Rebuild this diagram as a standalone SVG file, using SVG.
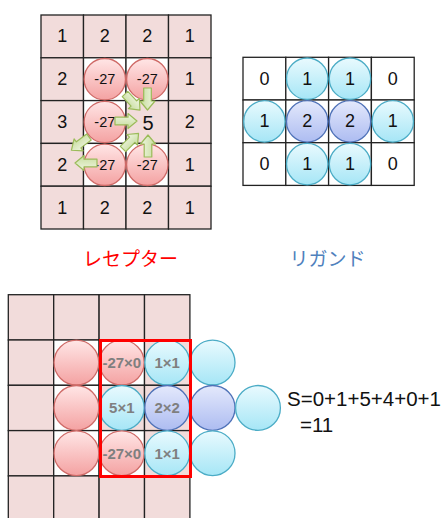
<svg xmlns="http://www.w3.org/2000/svg" xmlns:xlink="http://www.w3.org/1999/xlink" width="445" height="518" viewBox="0 0 445 518">
<style>
.cp{fill:#f2dcdb;stroke:#222;stroke-width:1.3}
.cw{fill:#fff;stroke:#222;stroke-width:1.3}
.num{font-family:"Liberation Sans",Arial,sans-serif;font-size:18px;fill:#111;text-anchor:middle;dominant-baseline:central}
.sm{font-family:"Liberation Sans",Arial,sans-serif;font-size:14.5px;fill:#111;text-anchor:middle;dominant-baseline:central}
.bd{font-family:"Liberation Sans",Arial,sans-serif;font-size:15px;font-weight:bold;fill:#7f7f7f;text-anchor:middle;dominant-baseline:central}
.red{fill:url(#gr);stroke:#cf6a67;stroke-width:1.3}
.cy{fill:url(#gc);stroke:#4bacc6;stroke-width:1.3}
.bl{fill:url(#gb);stroke:#4f72b8;stroke-width:1.3}
.arr{fill:url(#gg);stroke:#9bbb59;stroke-width:1.2;stroke-linejoin:round}
.jp{font-family:"Noto Sans CJK JP",sans-serif;font-size:19px}
.eq{font-family:"Liberation Sans",Arial,sans-serif;font-size:20.5px;fill:#111}
</style>
<defs>
<linearGradient id="gr" x1="0" y1="0" x2="0" y2="1"><stop offset="0" stop-color="#ffe6e6"/><stop offset="1" stop-color="#f4a2a2"/></linearGradient>
<linearGradient id="gc" x1="0" y1="0" x2="0" y2="1"><stop offset="0" stop-color="#e9fafe"/><stop offset="1" stop-color="#a6e6f6"/></linearGradient>
<linearGradient id="gb" x1="0" y1="0" x2="0" y2="1"><stop offset="0" stop-color="#e4e9fc"/><stop offset="1" stop-color="#adbcf1"/></linearGradient>
<linearGradient id="gg" x1="0" y1="0" x2="0" y2="1"><stop offset="0" stop-color="#f0f6e2"/><stop offset="1" stop-color="#c6dc9c"/></linearGradient>
<path id="arrow" class="arr" d="M0,-3.8 H13 V-7.5 L22,0 L13,7.5 V3.8 H0 Z"/>
</defs>

<!-- Top-left receptor grid -->
<g id="receptor-grid">
<rect class="cp" x="41" y="15" width="42.5" height="42.8"/><rect class="cp" x="83.5" y="15" width="42.5" height="42.8"/><rect class="cp" x="126" y="15" width="42.5" height="42.8"/><rect class="cp" x="168.5" y="15" width="42.5" height="42.8"/>
<rect class="cp" x="41" y="57.8" width="42.5" height="42.8"/><rect class="cw" x="83.5" y="57.8" width="42.5" height="42.8"/><rect class="cw" x="126" y="57.8" width="42.5" height="42.8"/><rect class="cp" x="168.5" y="57.8" width="42.5" height="42.8"/>
<rect class="cp" x="41" y="100.6" width="42.5" height="42.8"/><rect class="cw" x="83.5" y="100.6" width="42.5" height="42.8"/><rect class="cp" x="126" y="100.6" width="42.5" height="42.8"/><rect class="cp" x="168.5" y="100.6" width="42.5" height="42.8"/>
<rect class="cp" x="41" y="143.4" width="42.5" height="42.8"/><rect class="cw" x="83.5" y="143.4" width="42.5" height="42.8"/><rect class="cw" x="126" y="143.4" width="42.5" height="42.8"/><rect class="cp" x="168.5" y="143.4" width="42.5" height="42.8"/>
<rect class="cp" x="41" y="186.2" width="42.5" height="42.8"/><rect class="cp" x="83.5" y="186.2" width="42.5" height="42.8"/><rect class="cp" x="126" y="186.2" width="42.5" height="42.8"/><rect class="cp" x="168.5" y="186.2" width="42.5" height="42.8"/>
<text class="num" x="62.3" y="36.4">1</text><text class="num" x="104.8" y="36.4">2</text><text class="num" x="147.3" y="36.4">2</text><text class="num" x="189.8" y="36.4">1</text>
<text class="num" x="62.3" y="79.2">2</text><text class="num" x="189.8" y="79.2">1</text>
<text class="num" x="62.3" y="122">3</text><text class="num" x="189.8" y="122">2</text>
<text class="num" x="62.3" y="164.8">2</text><text class="num" x="189.8" y="164.8">1</text>
<text class="num" x="62.3" y="207.6">1</text><text class="num" x="104.8" y="207.6">2</text><text class="num" x="147.3" y="207.6">2</text><text class="num" x="189.8" y="207.6">1</text>
<text class="num" x="148" y="123" style="font-size:20px">5</text>
</g>
<g id="receptor-atoms">
<circle class="red" cx="104.8" cy="79.2" r="20.7"/><text class="sm" x="104.8" y="79.2">-27</text>
<circle class="red" cx="147.3" cy="79.2" r="20.7"/><text class="sm" x="147.3" y="79.2">-27</text>
<circle class="red" cx="104.8" cy="122" r="20.7"/><text class="sm" x="104.8" y="122">-27</text>
<circle class="red" cx="104.8" cy="164.8" r="20.7"/><text class="sm" x="104.8" y="164.8">-27</text>
<circle class="red" cx="147.3" cy="164.8" r="20.7"/><text class="sm" x="147.3" y="164.8">-27</text>
</g>
<g id="connectors">
<use xlink:href="#arrow" href="#arrow" transform="translate(125,94) rotate(47)"/>
<use xlink:href="#arrow" href="#arrow" transform="translate(147.5,88) rotate(90)"/>
<use xlink:href="#arrow" href="#arrow" transform="translate(115,121) rotate(0)"/>
<use xlink:href="#arrow" href="#arrow" transform="translate(123,149) rotate(-45)"/>
<use xlink:href="#arrow" href="#arrow" transform="translate(148,157) rotate(-90)"/>
<use xlink:href="#arrow" href="#arrow" transform="translate(89,137) rotate(143)"/>
<use xlink:href="#arrow" href="#arrow" transform="translate(97,163) rotate(180)"/>
</g>

<!-- Top-right ligand grid -->
<g id="ligand-grid">
<rect class="cw" x="243" y="57.3" width="42.8" height="42.7"/><rect class="cw" x="285.8" y="57.3" width="42.8" height="42.7"/><rect class="cw" x="328.6" y="57.3" width="42.8" height="42.7"/><rect class="cw" x="371.4" y="57.3" width="42.8" height="42.7"/>
<rect class="cw" x="243" y="100" width="42.8" height="42.7"/><rect class="cw" x="285.8" y="100" width="42.8" height="42.7"/><rect class="cw" x="328.6" y="100" width="42.8" height="42.7"/><rect class="cw" x="371.4" y="100" width="42.8" height="42.7"/>
<rect class="cw" x="243" y="142.7" width="42.8" height="42.7"/><rect class="cw" x="285.8" y="142.7" width="42.8" height="42.7"/><rect class="cw" x="328.6" y="142.7" width="42.8" height="42.7"/><rect class="cw" x="371.4" y="142.7" width="42.8" height="42.7"/>
<text class="num" x="264.4" y="78.7">0</text><text class="num" x="392.8" y="78.7">0</text>
<text class="num" x="264.4" y="164.1">0</text><text class="num" x="392.8" y="164.1">0</text>
</g>
<g id="ligand-atoms">
<circle class="cy" cx="307.2" cy="78.7" r="20.7"/><text class="num" x="307.2" y="78.7">1</text>
<circle class="cy" cx="350" cy="78.7" r="20.7"/><text class="num" x="350" y="78.7">1</text>
<circle class="cy" cx="264.4" cy="121.4" r="20.7"/><text class="num" x="264.4" y="121.4">1</text>
<circle class="bl" cx="307.2" cy="121.4" r="20.7"/><text class="num" x="307.2" y="121.4">2</text>
<circle class="bl" cx="350" cy="121.4" r="20.7"/><text class="num" x="350" y="121.4">2</text>
<circle class="cy" cx="392.8" cy="121.4" r="20.7"/><text class="num" x="392.8" y="121.4">1</text>
<circle class="cy" cx="307.2" cy="164.1" r="20.7"/><text class="num" x="307.2" y="164.1">1</text>
<circle class="cy" cx="350" cy="164.1" r="20.7"/><text class="num" x="350" y="164.1">1</text>
</g>

<g id="label-receptor"><text class="jp" x="130.5" y="266" fill="#ff0000" text-anchor="middle">レセプター</text></g>
<g id="label-ligand"><text class="jp" x="327.5" y="266" fill="#4f81bd" text-anchor="middle">リガンド</text></g>

<!-- Bottom overlay -->
<g id="overlay-grid">
<rect class="cp" x="8.3" y="294.7" width="45.4" height="45.3"/><rect class="cp" x="53.7" y="294.7" width="45.4" height="45.3"/><rect class="cp" x="99.1" y="294.7" width="45.4" height="45.3"/><rect class="cp" x="144.5" y="294.7" width="45.4" height="45.3"/>
<rect class="cp" x="8.3" y="340" width="45.4" height="45.3"/><rect class="cw" x="53.7" y="340" width="45.4" height="45.3"/><rect class="cw" x="99.1" y="340" width="45.4" height="45.3"/><rect class="cp" x="144.5" y="340" width="45.4" height="45.3"/>
<rect class="cp" x="8.3" y="385.3" width="45.4" height="45.3"/><rect class="cw" x="53.7" y="385.3" width="45.4" height="45.3"/><rect class="cp" x="99.1" y="385.3" width="45.4" height="45.3"/><rect class="cp" x="144.5" y="385.3" width="45.4" height="45.3"/>
<rect class="cp" x="8.3" y="430.6" width="45.4" height="45.3"/><rect class="cw" x="53.7" y="430.6" width="45.4" height="45.3"/><rect class="cw" x="99.1" y="430.6" width="45.4" height="45.3"/><rect class="cp" x="144.5" y="430.6" width="45.4" height="45.3"/>
<rect class="cp" x="8.3" y="475.9" width="45.4" height="45.3"/><rect class="cp" x="53.7" y="475.9" width="45.4" height="45.3"/><rect class="cp" x="99.1" y="475.9" width="45.4" height="45.3"/><rect class="cp" x="144.5" y="475.9" width="45.4" height="45.3"/>
</g>
<g id="overlay-atoms">
<circle class="red" cx="76.4" cy="362.6" r="22.4"/>
<circle class="red" cx="76.4" cy="407.9" r="22.4"/>
<circle class="red" cx="76.4" cy="453.2" r="22.4"/>
<circle class="red" cx="121.8" cy="362.6" r="22.4"/><text class="bd" x="121.8" y="362.6">-27×0</text>
<circle class="cy" cx="121.8" cy="407.9" r="22.4"/><text class="bd" x="121.8" y="407.9">5×1</text>
<circle class="red" cx="121.8" cy="453.2" r="22.4"/><text class="bd" x="121.8" y="453.2">-27×0</text>
<circle class="cy" cx="167.2" cy="362.6" r="22.4"/><text class="bd" x="167.2" y="362.6">1×1</text>
<circle class="bl" cx="167.2" cy="407.9" r="22.4"/><text class="bd" x="167.2" y="407.9">2×2</text>
<circle class="cy" cx="167.2" cy="453.2" r="22.4"/><text class="bd" x="167.2" y="453.2">1×1</text>
<circle class="cy" cx="212.6" cy="362.6" r="22.4"/>
<circle class="bl" cx="212.6" cy="407.9" r="22.4"/>
<circle class="cy" cx="212.6" cy="453.2" r="22.4"/>
<circle class="cy" cx="258" cy="407.9" r="22.4"/>
</g>
<g id="window"><rect x="100.5" y="340.5" width="90" height="136" fill="none" stroke="#ff0000" stroke-width="3"/></g>
<g id="score">
<text class="eq" x="287" y="406">S=0+1+5+4+0+1</text>
<text class="eq" x="300" y="432">=11</text>
</g>
</svg>
